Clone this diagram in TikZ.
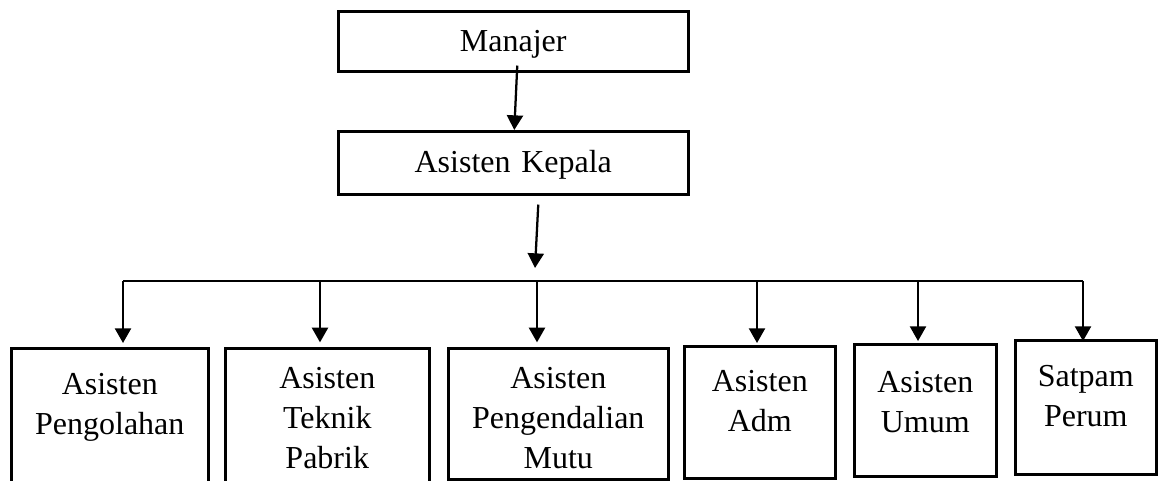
\documentclass[tikz,border=0pt]{standalone}
\usepackage{fontspec}
\setmainfont{Liberation Serif}
\usetikzlibrary{arrows.meta}
\usetikzlibrary{calc}

\tikzset{
    box/.style={draw, line width=1.9pt, inner sep=0pt, align=center, anchor=north west,
        font=\fontsize{24pt}{30pt}\selectfont},
    arr/.style={line width=1.7pt, -{Triangle[length=11pt,width=12pt]}},
    bus/.style={line width=0.9pt}
}

\begin{document}
\begin{tikzpicture}[x=0.75pt,y=-0.75pt]
                \useasboundingbox (0,0) rectangle (1162,480);

                % top of the chart
                \node[box, text width=262.5pt, text height=30pt, text depth=15pt] (man) at (337,10) {Manajer};
                \node[box, text width=262.5pt, text height=30.75pt, text depth=16.5pt] (kep) at (337,130) {Asisten Kepala};

                % the six units
                \node[box, text width=147.75pt, text height=34.5pt, text depth=76.5pt] (peng) at (10,347) {Asisten\\Pengolahan};
                \node[box, text width=153pt, text height=30pt, text depth=81pt] (tek) at (224,347) {Asisten\\Teknik\\Pabrik};
                \node[box, text width=165pt, text height=30pt, text depth=68.25pt] (mutu) at (447,347) {Asisten\\Pengendalian\\Mutu};
                \node[box, text width=113.25pt, text height=33.75pt, text depth=65.25pt] (adm) at (683,345) {Asisten\\Adm};
                \node[box, text width=106.5pt, text height=36pt, text depth=63pt] (umum) at (853,343) {Asisten\\Umum};
                \node[box, text width=105.75pt, text height=34.5pt, text depth=66pt] (satpam) at (1014,339) {Satpam\\Perum};

                \coordinate (split) at (535,268);
                \coordinate (b1) at (123,281);
                \coordinate (b2) at (320,281);
                \coordinate (b3) at (537,281);
                \coordinate (b4) at (757,281);
                \coordinate (b5) at (918,281);
                \coordinate (b6) at (1083,281);

                \draw[arr] ([xshift=3pt,yshift=5.25pt]man.south) -- ([xshift=0.75pt]kep.north);
                \draw[arr] ([xshift=18.75pt,yshift=-6.75pt]kep.south) -- (split);

                \draw[bus] (b1) -- (b6);
                \draw[arr, shorten >=3pt] (b1) -- (b1 |- peng.north);
                \draw[arr, shorten >=3.5pt] (b2) -- (b2 |- tek.north);
                \draw[arr, shorten >=3.5pt] (b3) -- (b3 |- mutu.north);
                \draw[arr, shorten >=1.5pt] (b4) -- (b4 |- adm.north);
                \draw[arr, shorten >=1.5pt] (b5) -- (b5 |- umum.north);
                \draw[arr, shorten >=-1.5pt] (b6) -- (b6 |- satpam.north);
            \end{tikzpicture}
\end{document}
